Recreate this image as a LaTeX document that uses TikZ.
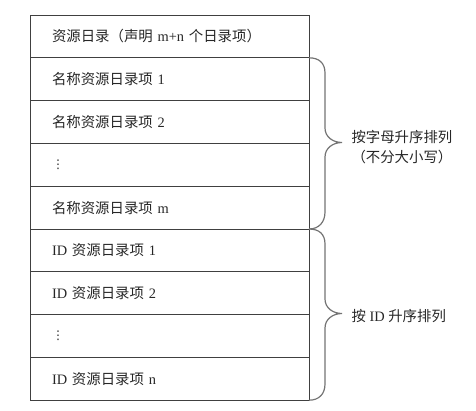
\documentclass[tikz,border=0pt]{standalone}
\usepackage{fontspec}
\setmainfont{Liberation Serif}
\newfontfamily\cjk{Noto Sans CJK SC}
\newfontfamily\symfont{DejaVu Sans}
\newcommand{\zh}[1]{{\cjk #1}}
\usetikzlibrary{positioning}
\definecolor{edgegray}{gray}{0.25}
\definecolor{bracegray}{gray}{0.45}
\definecolor{textgray}{gray}{0.15}
\tikzset{
    entry/.style={draw=edgegray, line width=1pt, outer sep=0pt,
        minimum width=279pt, minimum height=42.8pt,
        text width=235pt, inner xsep=22pt, align=left,
        text=textgray, font=\fontsize{14.4}{17}\selectfont},
    sortbrace/.style={draw=bracegray, line width=1.2pt},
    sortnote/.style={text=textgray, font=\fontsize{14.4}{20}\selectfont, align=center}
}
\begin{document}
\begin{tikzpicture}[x=1pt, y=-1pt]
    \useasboundingbox (0,0) rectangle (476,410);

    % 目录表
    \node[entry, anchor=north west] (head) at (30,15) {\zh{资源日录（声明} m+n \zh{个日录项）}};
    \node[entry, below=0pt of head] (name1) {\zh{名称资源日录项} 1};
    \node[entry, below=0pt of name1] (name2) {\zh{名称资源日录项} 2};
    \node[entry, below=0pt of name2] (namedots) {{\symfont\fontsize{12}{14}\selectfont ⋮}};
    \node[entry, below=0pt of namedots] (namem) {\zh{名称资源日录项} m};
    \node[entry, below=0pt of namem] (id1) {ID \zh{资源日录项} 1};
    \node[entry, below=0pt of id1] (id2) {ID \zh{资源日录项} 2};
    \node[entry, below=0pt of id2] (iddots) {{\symfont\fontsize{12}{14}\selectfont ⋮}};
    \node[entry, below=0pt of iddots] (idn) {ID \zh{资源日录项} n};

    % 名称项的括号
    \draw[sortbrace] (name1.north east) .. controls +(10,0) and +(0,-10) .. (325,73)
        -- (325,128) .. controls (325,137) and (333,142.5) .. (342,142.5)
        .. controls (333,142.5) and (325,148) .. (325,157)
        -- (325,212) .. controls +(0,10) and +(10,0) .. (namem.south east);
    \node[sortnote, anchor=west] (namenote) at (348,147) {\zh{按字母升序排列}\\\zh{（不分大小写）}};

    % ID 项的括号
    \draw[sortbrace] (id1.north east) .. controls +(10,0) and +(0,-10) .. (325,244)
        -- (325,299) .. controls (325,308) and (333,313.5) .. (342,313.5)
        .. controls (333,313.5) and (325,319) .. (325,328)
        -- (325,384) .. controls +(0,10) and +(10,0) .. (idn.south east);
    \node[sortnote, anchor=west] (idnote) at (348,316) {\zh{按} ID \zh{升序排列}};
\end{tikzpicture}
\end{document}
